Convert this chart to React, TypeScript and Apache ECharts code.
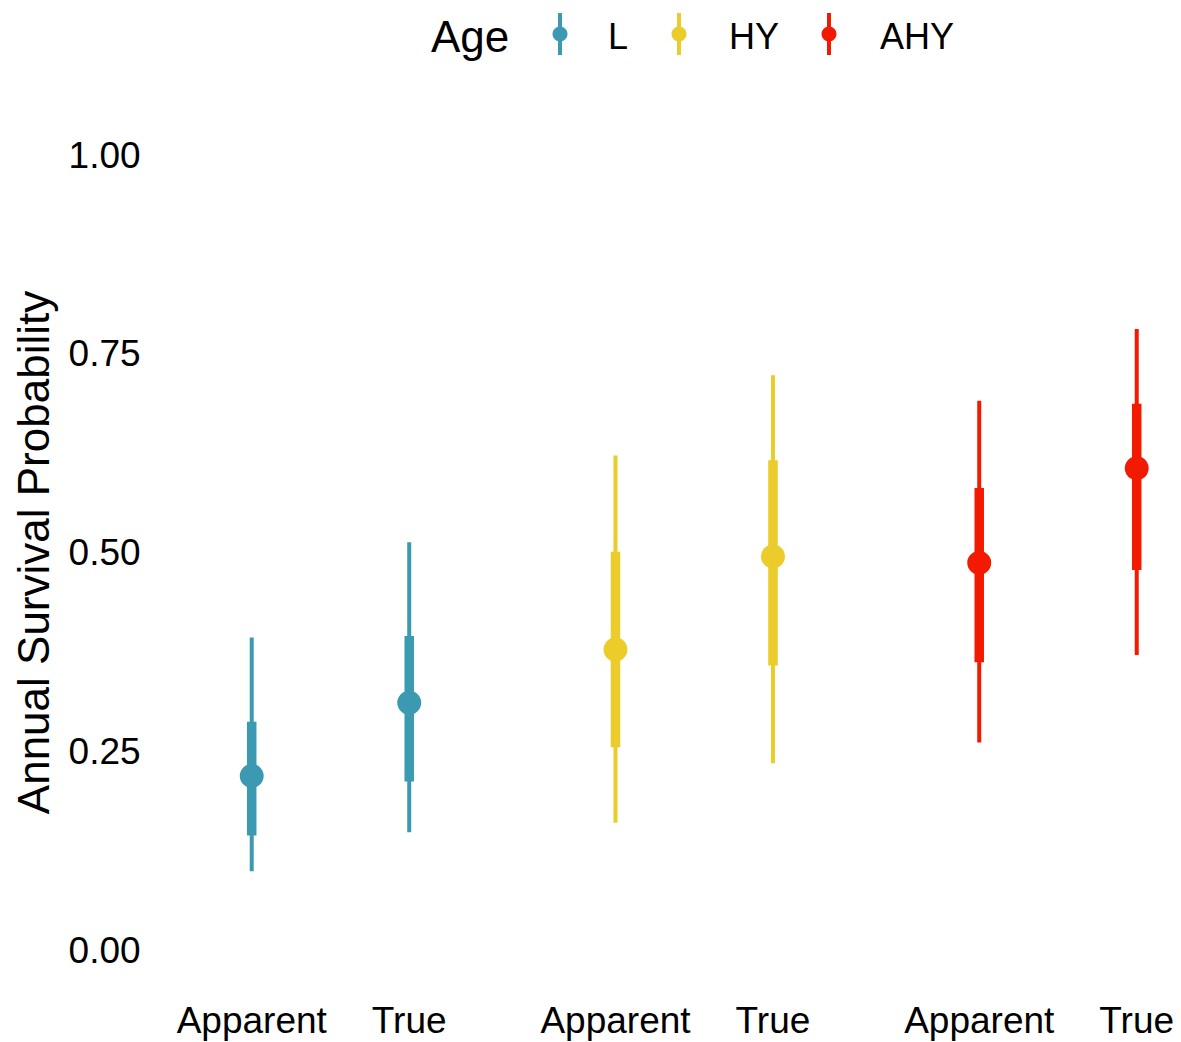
import React, { useEffect, useRef } from "react";
import * as echarts from "echarts";

// Age classes and their colours
const ageGroups = ["L", "HY", "AHY"];
const ageColors = ["#3B9AB2", "#EBCC2A", "#F21A00"];
// Estimate types (dodged within each age class)
const estimateTypes = ["Apparent", "True"];

// Values ordered: L-Apparent, L-True, HY-Apparent, HY-True, AHY-Apparent, AHY-True
const meanValues = [0.219, 0.311, 0.378, 0.495, 0.487, 0.606];
const lower95 = [0.099, 0.148, 0.16, 0.235, 0.261, 0.371];
const upper95 = [0.393, 0.513, 0.622, 0.723, 0.691, 0.781];
const lower50 = [0.144, 0.212, 0.255, 0.358, 0.362, 0.478];
const upper50 = [0.287, 0.395, 0.501, 0.616, 0.581, 0.687];

const yTicks = [0, 0.25, 0.5, 0.75, 1];

const DODGE = 0.2165;
const FONT = "'Liberation Sans', Arial, Helvetica, sans-serif";

const xPositions: number[] = [];
const xLabels: string[] = [];
ageGroups.forEach((_, g) => {
  estimateTypes.forEach((t, k) => {
    xPositions.push(g + 1 + (k === 0 ? -DODGE : DODGE));
    xLabels.push(t);
  });
});

export default function App() {
  const ref = useRef<HTMLDivElement>(null);

  useEffect(() => {
    document.body.style.margin = "0";
    if (!ref.current) return;
    const chart = echarts.init(ref.current, null, { renderer: "svg" });

    const series = ageGroups.map((name, g) => {
      const color = ageColors[g];
      const data = estimateTypes.map((_, k) => {
        const i = g * 2 + k;
        return [xPositions[i], lower95[i], upper95[i], lower50[i], upper50[i], meanValues[i]];
      });
      return {
        type: "custom",
        name,
        data,
        encode: { x: 0, y: [1, 2, 3, 4, 5] },
        renderItem: (params: any, api: any) => {
          const x = api.value(0);
          const a95 = api.coord([x, api.value(1)]);
          const b95 = api.coord([x, api.value(2)]);
          const a50 = api.coord([x, api.value(3)]);
          const b50 = api.coord([x, api.value(4)]);
          const m = api.coord([x, api.value(5)]);
          return {
            type: "group",
            children: [
              {
                type: "line",
                shape: { x1: a95[0], y1: a95[1], x2: b95[0], y2: b95[1] },
                style: { stroke: color, lineWidth: 4, lineCap: "butt" },
              },
              {
                type: "line",
                shape: { x1: a50[0], y1: a50[1], x2: b50[0], y2: b50[1] },
                style: { stroke: color, lineWidth: 9.5, lineCap: "butt" },
              },
              {
                type: "circle",
                shape: { cx: m[0], cy: m[1], r: 12 },
                style: { fill: color },
              },
            ],
          };
        },
      };
    });

    const legendSymbolX = [560, 679, 829];
    const legendTextX = [608, 729, 880];
    const legendY = 36;
    const legendElements: any[] = [
      {
        type: "text",
        x: 431,
        y: legendY,
        style: { text: "Age", fontSize: 44, fontFamily: FONT, fill: "#000", verticalAlign: "middle" },
      },
    ];
    ageGroups.forEach((name, g) => {
      legendElements.push({
        type: "line",
        shape: { x1: legendSymbolX[g], y1: 13, x2: legendSymbolX[g], y2: 55 },
        style: { stroke: ageColors[g], lineWidth: 4, lineCap: "butt" },
      });
      legendElements.push({
        type: "circle",
        shape: { cx: legendSymbolX[g], cy: 34, r: 7.5 },
        style: { fill: ageColors[g] },
      });
      legendElements.push({
        type: "text",
        x: legendTextX[g],
        y: legendY,
        style: { text: name, fontSize: 36, fontFamily: FONT, fill: "#000", verticalAlign: "middle" },
      });
    });

    chart.setOption({
      animation: false,
      backgroundColor: "#fff",
      textStyle: { fontFamily: FONT },
      grid: { left: 148.6, top: 155, width: 1032.4, height: 795 },
      xAxis: {
        type: "value",
        min: 0.5,
        max: 3.3382,
        axisLine: { show: false },
        axisTick: { show: false },
        splitLine: { show: false },
        axisLabel: {
          customValues: xPositions,
          formatter: (v: number) => {
            const idx = xPositions.findIndex((p) => Math.abs(p - v) < 1e-6);
            return idx >= 0 ? xLabels[idx] : "";
          },
          fontSize: 37,
          color: "#000",
          fontFamily: FONT,
          margin: 52,
        },
      },
      yAxis: {
        type: "value",
        min: yTicks[0],
        max: yTicks[yTicks.length - 1],
        interval: 0.25,
        name: "Annual Survival Probability",
        nameLocation: "middle",
        nameRotate: 90,
        nameGap: 93,
        nameTextStyle: { fontSize: 44, color: "#000", fontFamily: FONT },
        axisLine: { show: false },
        axisTick: { show: false },
        splitLine: { show: false },
        axisLabel: {
          formatter: (v: number) => v.toFixed(2),
          fontSize: 37,
          color: "#000",
          fontFamily: FONT,
          margin: 8,
        },
      },
      graphic: legendElements,
      series,
    } as any);

    return () => chart.dispose();
  }, []);

  return <div ref={ref} style={{ width: 1181, height: 1042 }} />;
}
